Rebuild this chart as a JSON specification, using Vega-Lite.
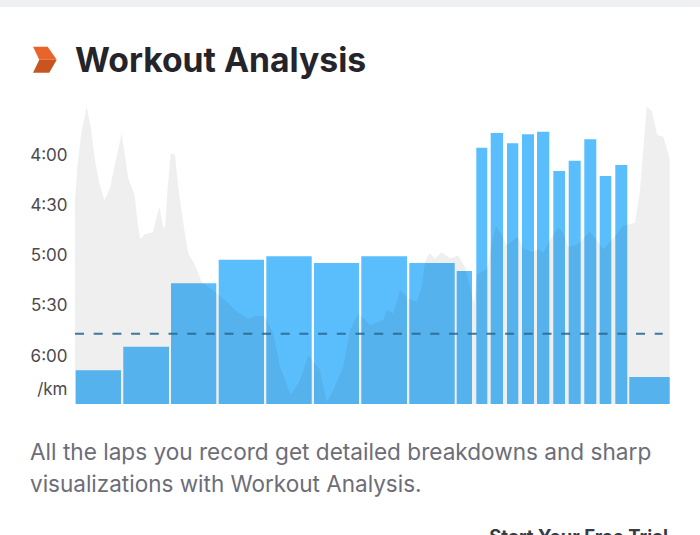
{"$schema":"https://vega.github.io/schema/vega-lite/v6.json","width":595,"height":304,"autosize":"none","padding":{"left":75,"top":100,"right":30,"bottom":131},"background":"#ffffff","config":{"view":{"stroke":null},"font":"Inter"},"layer":[
{"data":{"values":[{"start":0.7,"end":46,"pace":368.5},{"start":48.3,"end":94,"pace":354.4},{"start":96,"end":141.3,"pace":316.6},{"start":143.7,"end":189,"pace":302.5},{"start":191.3,"end":236.7,"pace":300.5},{"start":239,"end":284,"pace":304.5},{"start":286.3,"end":332,"pace":300.5},{"start":334.3,"end":379.7,"pace":304.5},{"start":381.7,"end":397,"pace":309.3},{"start":401.3,"end":412.3,"pace":235.6},{"start":415.7,"end":428,"pace":226.9},{"start":432,"end":443.3,"pace":233},{"start":447,"end":459,"pace":227.6},{"start":462,"end":474.3,"pace":226.1},{"start":478.3,"end":490,"pace":249.6},{"start":493.7,"end":505.7,"pace":243.4},{"start":509.3,"end":521.3,"pace":230.6},{"start":524.7,"end":536.3,"pace":252.5},{"start":540.3,"end":552.3,"pace":246},{"start":554.3,"end":594.7,"pace":372.5}]},"mark":{"type":"rect","color":"#5bbefc"},"encoding":{"x":{"field":"start","type":"quantitative","scale":{"domain":[0,595],"nice":false,"zero":false},"axis":null},"x2":{"field":"end"},"y":{"field":"pace","type":"quantitative","scale":{"domain":[388.65,207.16],"nice":false,"zero":false},"axis":{"values":[240,270,300,330,360,380],"labelExpr":"datum.value==380?'/km':datum.value==240?'4:00':datum.value==270?'4:30':datum.value==300?'5:00':datum.value==330?'5:30':'6:00'","title":null,"domain":false,"ticks":false,"grid":false,"labelPadding":8,"labelFontSize":17,"labelColor":"#4a4a4e","labelFont":"Inter"}},"y2":{"datum":388.65}}},
{"data":{"values":[{"band":"top"}]},"mark":{"type":"rect","color":"#eff0f2"},"encoding":{"x":{"datum":-75,"type":"quantitative","scale":{"domain":[0,595],"nice":false,"zero":false},"axis":null},"x2":{"datum":625},"y":{"datum":147.46,"type":"quantitative","scale":{"domain":[388.65,207.16],"nice":false,"zero":false}},"y2":{"datum":151.6}}},
{"data":{"values":[{"t":0,"p":266.9},{"t":2.3,"p":247},{"t":6.7,"p":225.1},{"t":11.7,"p":211.2},{"t":15.7,"p":223.1},{"t":20,"p":243},{"t":24,"p":255.9},{"t":29.3,"p":266.9},{"t":35,"p":259.9},{"t":40,"p":245},{"t":46.7,"p":227.1},{"t":53.3,"p":253.9},{"t":59.7,"p":263.9},{"t":62.7,"p":280.8},{"t":65.3,"p":290.2},{"t":70,"p":287.2},{"t":77.7,"p":286.2},{"t":84.3,"p":270.9},{"t":88.3,"p":283.2},{"t":90,"p":283.8},{"t":92.7,"p":258.9},{"t":95.7,"p":239},{"t":100,"p":240},{"t":103.3,"p":258.9},{"t":108.3,"p":280.8},{"t":113.3,"p":298.7},{"t":120,"p":305.7},{"t":126.7,"p":315.6},{"t":140,"p":321.6},{"t":151.7,"p":327.6},{"t":161.7,"p":333.5},{"t":173.3,"p":337.9},{"t":181.7,"p":335.9},{"t":190,"p":336.5},{"t":198.3,"p":346.5},{"t":205,"p":366.4},{"t":215.7,"p":383.3},{"t":225,"p":374.3},{"t":233.3,"p":359.4},{"t":245,"p":368.4},{"t":251.7,"p":387.3},{"t":258.3,"p":380.3},{"t":268.3,"p":366.4},{"t":275,"p":344.5},{"t":283.3,"p":334.5},{"t":295,"p":341.5},{"t":308.3,"p":338.5},{"t":311.7,"p":332.5},{"t":318.3,"p":334.5},{"t":325,"p":320.6},{"t":333.3,"p":325.6},{"t":341.7,"p":327.6},{"t":346.7,"p":318.6},{"t":350,"p":303.7},{"t":354.3,"p":298.7},{"t":360,"p":301.7},{"t":366.7,"p":298.1},{"t":375,"p":301.7},{"t":383.3,"p":300.1},{"t":390,"p":306.7},{"t":399,"p":328.6},{"t":401.7,"p":311.6},{"t":412.3,"p":307.7},{"t":416.7,"p":292.7},{"t":421,"p":282.4},{"t":426.7,"p":287.8},{"t":431.7,"p":293.7},{"t":442.7,"p":288.8},{"t":448.3,"p":295.7},{"t":456.7,"p":297.7},{"t":463.3,"p":296.3},{"t":468.3,"p":298.1},{"t":475,"p":290.8},{"t":483.3,"p":283.2},{"t":488.3,"p":286.8},{"t":493.3,"p":294.7},{"t":501.7,"p":293.7},{"t":515,"p":285.8},{"t":521.7,"p":290.8},{"t":528.3,"p":296.3},{"t":536.7,"p":290.8},{"t":548.3,"p":282.2},{"t":560,"p":280.4},{"t":565,"p":260.9},{"t":571.7,"p":211.2},{"t":576.7,"p":213.5},{"t":582.3,"p":228.1},{"t":588.3,"p":229.1},{"t":593.3,"p":239},{"t":594.7,"p":243}]},"mark":{"type":"area","color":"#000000","opacity":0.063},"encoding":{"x":{"field":"t","type":"quantitative","scale":{"domain":[0,595],"nice":false,"zero":false},"axis":null},"y":{"field":"p","type":"quantitative","scale":{"domain":[388.65,207.16],"nice":false,"zero":false}},"y2":{"datum":388.65}}},
{"data":{"values":[{"from":0,"to":587.7,"pace":346.7}]},"mark":{"type":"rule","color":"#2a6a94","strokeWidth":2,"strokeDash":[9,9.7],"opacity":0.9},"encoding":{"x":{"field":"from","type":"quantitative","scale":{"domain":[0,595],"nice":false,"zero":false},"axis":null},"x2":{"field":"to"},"y":{"field":"pace","type":"quantitative","scale":{"domain":[388.65,207.16],"nice":false,"zero":false}}}},
{"data":{"values":[{"part":"upper"}]},"mark":{"type":"point","filled":true,"opacity":1,"color":"#e9642b","shape":"M-0.92,-1L0.21,-1L0.9,0L-0.44,0Z","size":676},"encoding":{"x":{"datum":-30,"type":"quantitative","scale":{"domain":[0,595],"nice":false,"zero":false},"axis":null},"y":{"datum":183.1,"type":"quantitative","scale":{"domain":[388.65,207.16],"nice":false,"zero":false}}}},
{"data":{"values":[{"part":"lower"}]},"mark":{"type":"point","filled":true,"opacity":1,"color":"#c85520","shape":"M-0.44,0L0.9,0L0.33,1L-0.92,1Z","size":676},"encoding":{"x":{"datum":-30,"type":"quantitative","scale":{"domain":[0,595],"nice":false,"zero":false},"axis":null},"y":{"datum":183.1,"type":"quantitative","scale":{"domain":[388.65,207.16],"nice":false,"zero":false}}}},
{"data":{"values":[{"s":"t"}]},"mark":{"type":"text","text":"Workout Analysis","align":"left","baseline":"alphabetic","font":"Inter","fontWeight":700,"fontSize":33.7,"color":"#24242a"},"encoding":{"x":{"datum":0,"type":"quantitative","scale":{"domain":[0,595],"nice":false,"zero":false},"axis":null},"y":{"datum":190.4,"type":"quantitative","scale":{"domain":[388.65,207.16],"nice":false,"zero":false}}}},
{"data":{"values":[{"s":"a"}]},"mark":{"type":"text","text":"All the laps you record get detailed breakdowns and sharp","align":"left","baseline":"alphabetic","font":"Inter","fontSize":22.6,"color":"#6d6d78"},"encoding":{"x":{"datum":-45,"type":"quantitative","scale":{"domain":[0,595],"nice":false,"zero":false},"axis":null},"y":{"datum":422.1,"type":"quantitative","scale":{"domain":[388.65,207.16],"nice":false,"zero":false}}}},
{"data":{"values":[{"s":"b"}]},"mark":{"type":"text","text":"visualizations with Workout Analysis.","align":"left","baseline":"alphabetic","font":"Inter","fontSize":22.5,"color":"#6d6d78"},"encoding":{"x":{"datum":-45,"type":"quantitative","scale":{"domain":[0,595],"nice":false,"zero":false},"axis":null},"y":{"datum":441.2,"type":"quantitative","scale":{"domain":[388.65,207.16],"nice":false,"zero":false}}}},
{"data":{"values":[{"s":"c"}]},"mark":{"type":"text","text":"Start Your Free Trial","align":"right","baseline":"alphabetic","font":"Inter","fontWeight":700,"fontSize":18.5,"color":"#3a3a42"},"encoding":{"x":{"datum":593,"type":"quantitative","scale":{"domain":[0,595],"nice":false,"zero":false},"axis":null},"y":{"datum":471.6,"type":"quantitative","scale":{"domain":[388.65,207.16],"nice":false,"zero":false}}}}
]}
